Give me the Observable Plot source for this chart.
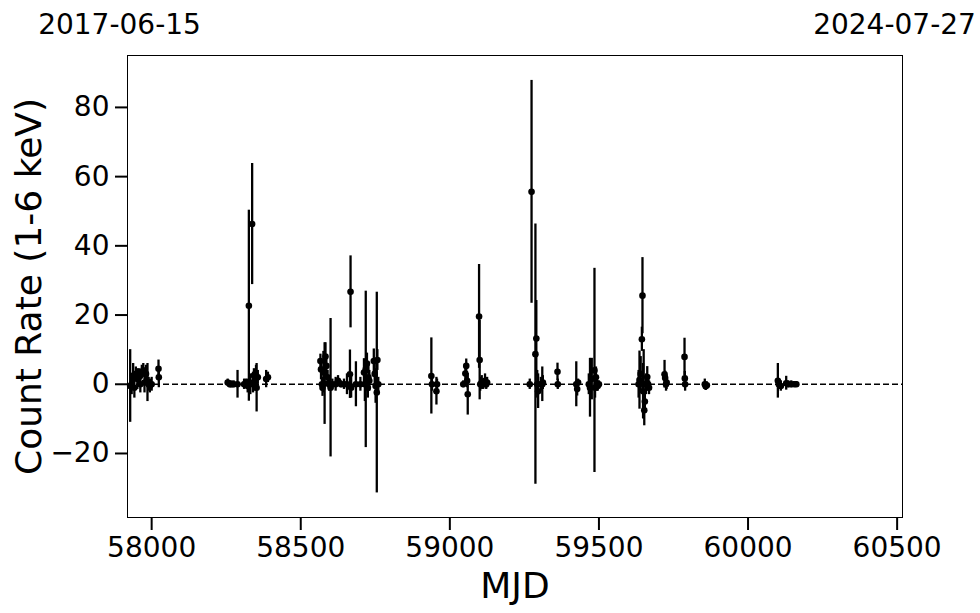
<!DOCTYPE html>
<html><head><meta charset="utf-8">
<script src="https://cdn.jsdelivr.net/npm/d3@7"></script>
<script src="https://cdn.jsdelivr.net/npm/@observablehq/plot@0.6"></script>
<style>
body{margin:0;background:#fff;}
svg text{font-family:"DejaVu Sans",sans-serif;}
</style></head><body><div id="chart"></div>
<script>
// MJD of each observation
const mjd = [
  57928,57933,57938,57942,57947,57952,57957,57962,57967,57972,57976,57981,57986,57990,57994,58000,58023,58024,
  58255,58262,58268,58275,58288,58310,58316,58322,58326,58331,58337,58340,58343,58347,58350,58352,58356,58384,58390,
  58566,58568,58571,58573,58576,58580,58583,58586,58590,58595,58600,58606,58617,58625,58635,58645,58655,58665,58667,58669,58685,58700,58712,58715,58718,58722,58725,58727,58730,58745,58748,58751,58755,58757,58760,
  58938,58940,58955,58957,
  59045,59052,59055,59058,59060,59098,59100,59102,59107,59112,59118,59122,59125,
  59268,59274,59287,59290,59293,59296,59305,59310,59312,59361,59362,59424,59427,59430,
  59466,59470,59476,59485,59487,59490,59493,59496,59500,
  59633,59636,59640,59644,59646,59648,59650,59652,59654,59658,59662,59665,59668,
  59720,59722,59725,59727,59787,59788,59789,59855,59858,59862,
  60100,60103,60110,60128,60135,60145,60155,60162
];
// Count rate (1-6 keV)
const rate = [
  -0.5,0,2.5,-1,3,1.5,2,0,3.5,4,0.5,3,0.5,0,-0.5,0,4.5,2,
  0.5,0,0,0,0,0,0.5,-0.5,22.7,0,46.3,0.5,2.5,0,2.5,-1,2,1.5,2,
  6.7,4.3,0,-1,3.5,0.2,8,5.3,2,0,-1,0,0,1,0,0,0,2.9,26.7,-1,0,0,3.4,0,4.3,6,-1,2,1,6.7,3,-0.5,-2.4,7,0,
  2.4,0,-2,0,
  0,3.1,5.3,1,-2.9,19.6,7,0,0.5,0,1,0,0.5,
  0,55.6,8.7,13.2,0,-2,0,0,0.5,3.6,0,0,-1.4,0.5,
  0,-1,1.5,4,-1,2,0,-0.5,0,
  0,1.2,3,13,25.6,-2,0,-7.5,-5,0,2.1,0,-1,
  2.9,1.8,0,0.5,7.9,1.7,0,0,-0.6,-0.3,
  1,0,-0.5,0.3,0,0,0,0
];
// 1-sigma errors
const err = [
  10.5,3,3.5,3,2,3,2.5,2.5,2,2,3,2.5,5.5,2,2,2,2.5,3,
  1,1,1,1,4,1.5,1,2,27.6,3,17.5,3,2,2,3,7,2,2.5,1.5,
  2,3,2,2.5,6,11.8,4,3,2,2,20,1.5,2,1.5,1,1.5,3,7,10.4,3,6.5,2,4,5,22.6,3,3,4,3,3.5,4,5,29,3,2,
  11,2,4,1.5,
  1,2,2,2,6,15,11.5,2,2,1.5,2,1.5,1.5,
  1.5,32.2,37.6,11,4,5,2,5,2,2.5,1.5,6.5,2,1,
  3,8.5,6,29.5,3,3,2,1.5,1,
  4,8.4,5,3.5,11,8,10,4.5,3,3,3,2,2,
  4,2,2,2,5.4,2,2,1.5,1.2,1,
  5,1.5,1.5,2,1,1,0.8,0.8
];
const xTicks = [58000, 58500, 59000, 59500, 60000, 60500];
const yTicks = [-20, 0, 20, 40, 60, 80];
const topTicks = [57919, 60518];
const topLabels = ["2017-06-15", "2024-07-27"];

const data = mjd.map((m, i) => ({mjd: m, rate: rate[i], err: err[i]}));

const plot = Plot.plot({
  width: 980, height: 613,
  marginLeft: 127, marginRight: 78, marginTop: 55, marginBottom: 96,
  x: {domain: [57919, 60518]},
  y: {domain: [-38.5, 95]},
  style: {fontFamily: "DejaVu Sans", fontSize: "28px", color: "#000", background: "#fff", overflow: "visible"},
  marks: [
    Plot.ruleY([0], {stroke: "#000", strokeDasharray: "6,3", strokeWidth: 1.5}),
    Plot.ruleX(data, {x: "mjd", y1: d => d.rate - d.err, y2: d => d.rate + d.err, stroke: "#000", strokeWidth: 2.3}),
    Plot.dot(data, {x: "mjd", y: "rate", r: 3.3, fill: "#000", stroke: "none"}),
    Plot.frame({stroke: "#000", strokeWidth: 1}),
    Plot.axisX(xTicks, {anchor: "bottom", tickSize: 13, tickPadding: 7, strokeWidth: 2, fontSize: 28, label: null, tickFormat: d => String(d)}),
    Plot.axisY(yTicks, {anchor: "left", tickSize: 12, tickPadding: 6, strokeWidth: 2, fontSize: 28, label: null, tickFormat: d => d < 0 ? "\u2212" + Math.abs(d) : String(d)}),
    Plot.axisX(topTicks, {anchor: "top", tickSize: 0, tickPadding: 22, fontSize: 28, dx: -8, label: null, tickFormat: (d, i) => topLabels[i]}),
    Plot.text(["MJD"], {frameAnchor: "bottom", lineAnchor: "top", textAnchor: "middle", dy: 55, fontSize: 36}),
    Plot.text(["Count Rate (1-6 keV)"], {frameAnchor: "left", rotate: -90, textAnchor: "middle", lineAnchor: "middle", dx: -98, fontSize: 36})
  ]
});
document.getElementById("chart").appendChild(plot);
</script></body></html>
